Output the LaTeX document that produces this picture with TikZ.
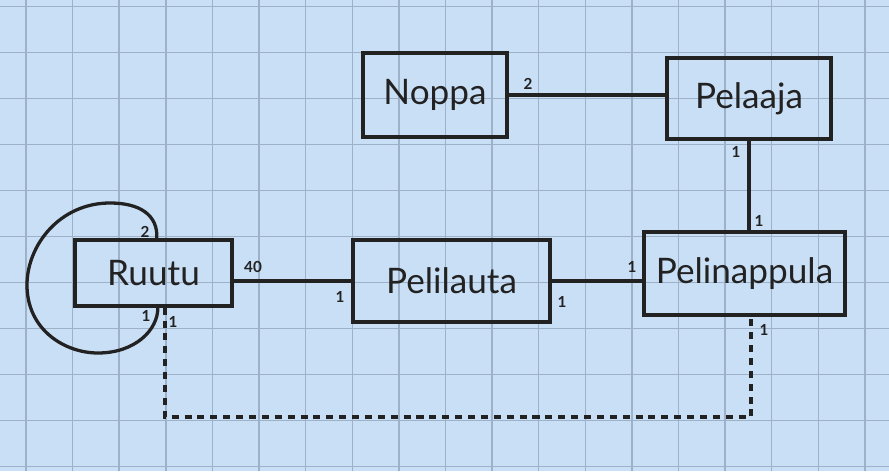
\documentclass[tikz,border=0pt]{standalone}
\usepackage{fontspec}
\setmainfont{Lato}
\begin{document}
\begin{tikzpicture}[
        x=0.03cm, y=-0.03cm,
        box/.style={rectangle, draw=ink, line width=2.8pt, inner sep=0pt,
                    text=ink, font={\fontsize{30}{34}\selectfont}},
        link/.style={draw=ink, line width=2.8pt},
        mult/.style={text=ink, inner sep=1pt, font={\fontsize{13}{15}\selectfont\bfseries}},
        gridline/.style={draw=gridblue, line width=1.2pt}
    ]
    \definecolor{paper}{HTML}{C9DFF6}
    \definecolor{gridblue}{HTML}{9DB1C8}
    \definecolor{ink}{HTML}{222222}

    % paper and grid
    \useasboundingbox (0,0) rectangle (889,471);
    \fill[paper] (0,0) rectangle (889,471);
    \foreach \i in {0,...,18}
        \draw[gridline] ({26+46.6*\i},0) -- ({26+46.6*\i},471);
    \foreach \j in {0,...,10}
        \draw[gridline] (0,{6.7+46*\j}) -- (889,{6.7+46*\j});

    % classes
    \node[box, minimum width=4.32cm, minimum height=2.52cm] (Noppa) at (435,95) {Noppa};
    \node[box, minimum width=4.92cm, minimum height=2.43cm] (Pelaaja) at (749,98.5) {Pelaaja};
    \node[box, minimum width=4.71cm, minimum height=1.98cm] (Ruutu) at (153.5,273) {Ruutu};
    \node[box, minimum width=5.91cm, minimum height=2.46cm] (Pelilauta) at (451.5,281) {Pelilauta};
    \node[box, minimum width=6.03cm, minimum height=2.49cm] (Pelinappula) at (744.5,273.5) {Pelinappula};

    % associations
    \draw[link] (Noppa.east) -- (Noppa.east -| Pelaaja.west);
    \draw[link] (Pelaaja.south) -- (Pelaaja.south |- Pelinappula.north);
    \draw[link] (Ruutu.east |- Pelilauta.west) -- (Pelilauta.west);
    \draw[link] (Pelilauta.east) -- (Pelilauta.east -| Pelinappula.west);

    % self association of Ruutu
    \coordinate (loopA) at ([xshift=0.1cm]Ruutu.north);
    \coordinate (loopB) at ([xshift=0.13cm]Ruutu.south);
    \draw[link] (loopA) .. controls (158,215) and (140,203) .. (110,203)
        .. controls (60,203) and (27,245) .. (27,285)
        .. controls (27,330) and (65,353) .. (98,353)
        .. controls (135,353) and (158,330) .. (loopB);

    % dependency Ruutu - Pelinappula
    \coordinate (dashA) at ([xshift=0.345cm]Ruutu.south);
    \coordinate (dashB) at ([xshift=0.195cm]Pelinappula.south);
    \coordinate (low) at (0,417);
    \draw[link, dash pattern=on 6pt off 5pt] (dashA) -- (dashA |- low) -| (dashB);

    % multiplicities
    \node[mult] (mNoppa) at (528,84) {2};
    \node[mult] (mPelaaja) at (736,152) {1};
    \node[mult] (mNappulaTop) at (759,221) {1};
    \node[mult] (mRuutu) at (253,267) {40};
    \node[mult] (mLautaL) at (340,297) {1};
    \node[mult] (mLautaR) at (562,302) {1};
    \node[mult] (mNappulaL) at (632,267) {1};
    \node[mult] (mLoopTop) at (145,232) {2};
    \node[mult] (mLoopBot) at (146,316) {1};
    \node[mult] (mDashL) at (173,322) {1};
    \node[mult] (mDashR) at (764,330) {1};
\end{tikzpicture}
\end{document}
